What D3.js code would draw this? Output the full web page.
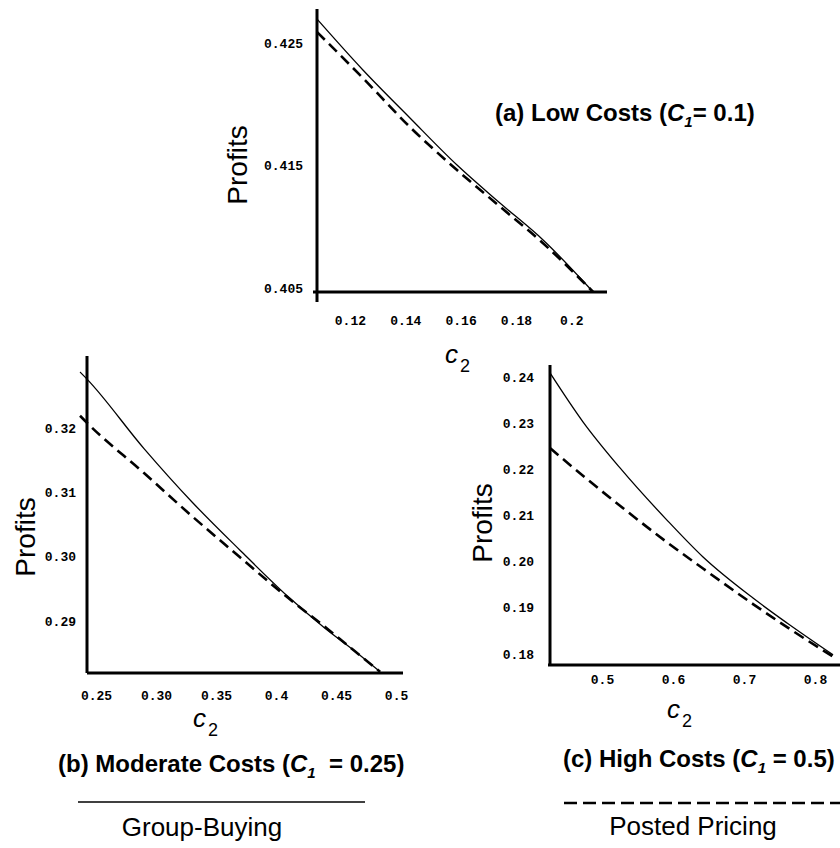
<!DOCTYPE html>
<html lang="en">
<head>
<meta charset="UTF-8">
<script src="https://d3js.org/d3.v7.min.js"></script>
<title>Profits vs c2</title>
<style>
  body { margin: 0; background: #fff; }
  svg { display: block; }
  .tick text { font-family: "Liberation Mono", "DejaVu Sans Mono", monospace; font-weight: bold; font-size: 13px; fill: #000; }
  .title { font-family: "Liberation Sans", Arial, sans-serif; font-weight: bold; font-size: 24px; }
  .ylab { font-family: "Liberation Sans", Arial, sans-serif; font-size: 28px; }
  .xlab { font-family: "Liberation Sans", Arial, sans-serif; font-size: 26px; }
  .legend { font-family: "Liberation Sans", Arial, sans-serif; font-size: 26px; }
</style>
</head>
<body>
<svg id="chart" width="840" height="848"></svg>
<script>
// panel (a) low costs, c1 = 0.1
var aC2      = [0.1081, 0.1247, 0.1417, 0.1587, 0.1742, 0.1898, 0.2079];
var aGroup   = [0.42696, 0.42280, 0.41888, 0.41504, 0.41194, 0.40892, 0.40467];
var aPosted  = [0.42590, 0.42214, 0.41814, 0.41463, 0.41165, 0.40865, 0.40467];
var aXTicks  = [0.12, 0.14, 0.16, 0.18, 0.2];
var aXLabels = ["0.12", "0.14", "0.16", "0.18", "0.2"];
var aYTicks  = [0.425, 0.415, 0.405];
var aYLabels = ["0.425", "0.415", "0.405"];

// panel (b) moderate costs, c1 = 0.25
var bC2      = [0.2367, 0.2425, 0.29, 0.33, 0.37, 0.41, 0.44, 0.465, 0.4867];
var bGroup   = [0.3287, 0.3276, 0.3168, 0.3085, 0.3010, 0.2938, 0.2890, 0.2854, 0.2821];
var bPosted  = [0.3219, 0.3208, 0.3130, 0.3063, 0.2999, 0.2936, 0.2892, 0.2854, 0.2821];
var bXTicks  = [0.25, 0.30, 0.35, 0.4, 0.45, 0.5];
var bXLabels = ["0.25", "0.30", "0.35", "0.4", "0.45", "0.5"];
var bYTicks  = [0.32, 0.31, 0.30, 0.29];
var bYLabels = ["0.32", "0.31", "0.30", "0.29"];

// panel (c) high costs, c1 = 0.5
var cC2      = [0.4268, 0.4732, 0.5254, 0.5915, 0.6423, 0.7127, 0.7606, 0.8254];
var cGroup   = [0.2409, 0.2303, 0.2203, 0.2090, 0.2010, 0.1921, 0.1867, 0.1798];
var cPosted  = [0.2246, 0.2186, 0.2121, 0.2042, 0.1985, 0.1908, 0.1858, 0.1794];
var cXTicks  = [0.5, 0.6, 0.7, 0.8];
var cXLabels = ["0.5", "0.6", "0.7", "0.8"];
var cYTicks  = [0.24, 0.23, 0.22, 0.21, 0.20, 0.19, 0.18];
var cYLabels = ["0.24", "0.23", "0.22", "0.21", "0.20", "0.19", "0.18"];

var svg = d3.select("#chart");

var panels = [
  {c2: aC2, g: aGroup, p: aPosted, xt: aXTicks, xl: aXLabels, yt: aYTicks, yl: aYLabels,
   xd: [0.1081, 0.2129], xr: [317, 607], yd: [0.40467, 0.42778], yr: [292, 9],
   ypad: 14, xpad: 24, yExt: 10, xExt: 4, ylab: [237, 165], c2lab: [445, 363],
   title: {x: 495, y: 121, pre: "(a) Low Costs (", post: "= 0.1)"}},
  {c2: bC2, g: bGroup, p: bPosted, xt: bXTicks, xl: bXLabels, yt: bYTicks, yl: bYLabels,
   xd: [0.2425, 0.5058], xr: [87, 403], yd: [0.28192, 0.33119], yr: [673, 356],
   ypad: 11, xpad: 18, yExt: 0, xExt: 0, ylab: [25, 537], c2lab: [193, 727],
   title: {x: 58, y: 772, pre: "(b) Moderate Costs (", post: "\u00A0 = 0.25)"}},
  {c2: cC2, g: cGroup, p: cPosted, xt: cXTicks, xl: cXLabels, yt: cYTicks, yl: cYLabels,
   xd: [0.4268, 0.8380], xr: [550, 842], yd: [0.1776, 0.2426], yr: [665, 365],
   ypad: 16, xpad: 10, yExt: 0, xExt: 2, ylab: [482, 523], c2lab: [667, 718],
   title: {x: 563, y: 767, pre: "(c) High Costs (", post: " = 0.5)"}}
];

panels.forEach(function(d){
  var x = d3.scaleLinear().domain(d.xd).range(d.xr);
  var y = d3.scaleLinear().domain(d.yd).range(d.yr);
  var g = svg.append("g");

  // tick labels
  g.append("g")
    .attr("transform", "translate(" + d.xr[0] + ",0)")
    .call(d3.axisLeft(y).tickValues(d.yt).tickSize(0).tickPadding(d.ypad)
      .tickFormat(function(v, i){ return d.yl[i]; }))
    .call(function(s){ s.select(".domain").remove(); });
  g.append("g")
    .attr("transform", "translate(0," + d.yr[0] + ")")
    .call(d3.axisBottom(x).tickValues(d.xt).tickSize(0).tickPadding(d.xpad)
      .tickFormat(function(v, i){ return d.xl[i]; }))
    .call(function(s){ s.select(".domain").remove(); });

  // axis lines
  g.append("line")
    .attr("x1", d.xr[0]).attr("x2", d.xr[0])
    .attr("y1", d.yr[1]).attr("y2", d.yr[0] + d.yExt)
    .attr("stroke", "#000").attr("stroke-width", 3);
  g.append("line")
    .attr("x1", d.xr[0] - d.xExt).attr("x2", d.xr[1])
    .attr("y1", d.yr[0]).attr("y2", d.yr[0])
    .attr("stroke", "#000").attr("stroke-width", 3);

  var line = d3.line()
    .x(function(v, i){ return x(d.c2[i]); })
    .y(function(v){ return y(v); })
    .curve(d3.curveMonotoneX);

  g.append("path").attr("d", line(d.p))
    .attr("fill", "none").attr("stroke", "#000")
    .attr("stroke-width", 2.6).attr("stroke-dasharray", "11,6");
  g.append("path").attr("d", line(d.g))
    .attr("fill", "none").attr("stroke", "#000").attr("stroke-width", 1.3);

  // axis titles
  g.append("text").attr("class", "ylab")
    .attr("transform", "translate(" + d.ylab[0] + "," + d.ylab[1] + ") rotate(-90)")
    .attr("text-anchor", "middle").attr("dy", "0.35em")
    .text("Profits");
  var c2t = g.append("text").attr("class", "xlab")
    .attr("x", d.c2lab[0]).attr("y", d.c2lab[1]);
  c2t.append("tspan").attr("font-style", "italic").text("c");
  c2t.append("tspan").attr("font-size", "18px").attr("dx", 2).attr("dy", 9).text("2");

  // panel title
  var t = g.append("text").attr("class", "title")
    .attr("x", d.title.x).attr("y", d.title.y);
  t.append("tspan").text(d.title.pre);
  t.append("tspan").attr("font-style", "italic").text("C");
  t.append("tspan").attr("font-style", "italic").attr("font-size", "15px")
    .attr("dy", 6).text("1");
  t.append("tspan").attr("dy", -6).text(d.title.post);
});

// legend
svg.append("line").attr("x1", 78).attr("x2", 365).attr("y1", 802).attr("y2", 802)
  .attr("stroke", "#000").attr("stroke-width", 1.3);
svg.append("text").attr("class", "legend").attr("x", 202).attr("y", 836)
  .attr("text-anchor", "middle").text("Group-Buying");
svg.append("line").attr("x1", 564).attr("x2", 840).attr("y1", 803).attr("y2", 803)
  .attr("stroke", "#000").attr("stroke-width", 2.6).attr("stroke-dasharray", "13,6");
svg.append("text").attr("class", "legend").attr("x", 693).attr("y", 835)
  .attr("text-anchor", "middle").text("Posted Pricing");
</script>
</body>
</html>
